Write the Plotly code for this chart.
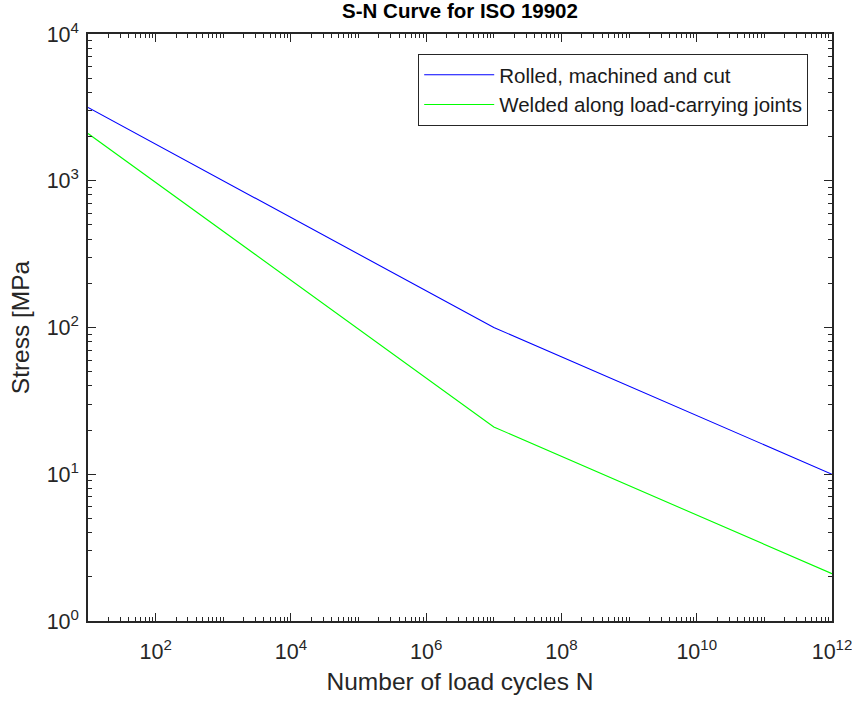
import plotly.graph_objects as go

cycles = [1e1, 1e7, 1e12]
rolled_stress = [3162, 100, 10]
welded_stress = [2100, 21, 2.1]

x_tick_vals = [1e2, 1e4, 1e6, 1e8, 1e10, 1e12]
x_tick_text = ["10<sup>2</sup>", "10<sup>4</sup>", "10<sup>6</sup>", "10<sup>8</sup>", "10<sup>10</sup>", "10<sup>12</sup>"]
y_tick_vals = [1e0, 1e1, 1e2, 1e3, 1e4]
y_tick_text = ["10<sup>0</sup>", "10<sup>1</sup>", "10<sup>2</sup>", "10<sup>3</sup>", "10<sup>4</sup>"]

FONT = "Liberation Sans, Arial"
INK = "#262626"

fig = go.Figure()
fig.add_trace(go.Scatter(x=cycles, y=rolled_stress, mode="lines",
                         name="Rolled, machined and cut",
                         line=dict(color="rgb(0,0,255)", width=1.1)))
fig.add_trace(go.Scatter(x=cycles, y=welded_stress, mode="lines",
                         name="Welded along load-carrying joints",
                         line=dict(color="rgb(0,255,0)", width=1.1)))

axis_common = dict(
    showgrid=False, zeroline=False, showline=True, linecolor=INK, linewidth=1.5,
    mirror="ticks", ticks="inside", ticklen=8, tickwidth=1.2, tickcolor=INK,
    tickfont=dict(family=FONT, size=21.5, color=INK), automargin=False,
    ticklabeloverflow="allow",
)

fig.update_xaxes(type="log", range=[1, 12], tickmode="array", tickvals=x_tick_vals,
                 ticktext=x_tick_text, ticklabelstandoff=10,
                 minor=dict(ticks="inside", ticklen=4, tickwidth=1, tickcolor=INK, dtick="D1"),
                 title=dict(text="Number of load cycles N",
                            font=dict(family=FONT, size=24.5, color=INK),
                            standoff=10),
                 **axis_common)
fig.update_yaxes(type="log", range=[0, 4], tickmode="array", tickvals=y_tick_vals,
                 ticktext=y_tick_text, ticklabelstandoff=3,
                 minor=dict(ticks="inside", ticklen=4, tickwidth=1, tickcolor=INK, dtick="D1"),
                 title=dict(text="Stress [MPa",
                            font=dict(family=FONT, size=24.5, color=INK),
                            standoff=10),
                 **axis_common)

fig.update_layout(
    width=852, height=702,
    paper_bgcolor="white", plot_bgcolor="white",
    margin=dict(l=88, r=20, t=34, b=81),
    title=dict(text="<b>S-N Curve for ISO 19902</b>", xref="paper", x=0.5, xanchor="center",
               y=0.984, yanchor="middle",
               font=dict(family=FONT, size=20.5, color="black")),
    legend=dict(x=0.968, y=0.966, xanchor="right", yanchor="top",
                bgcolor="white", bordercolor=INK, borderwidth=1,
                font=dict(family=FONT, size=20.5, color="#1a1a1a"),
                tracegroupgap=0, itemwidth=70),
    showlegend=True,
)

fig.write_html("out.html")
